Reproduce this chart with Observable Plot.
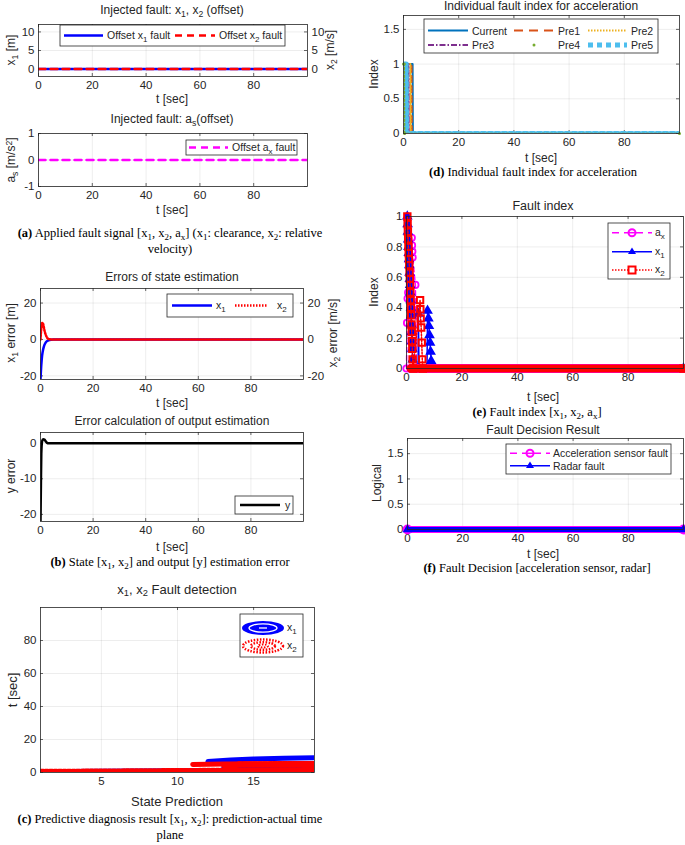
<!DOCTYPE html>
<html><head><meta charset="utf-8">
<script src="https://cdn.jsdelivr.net/npm/d3@7"></script>
<script src="https://cdn.jsdelivr.net/npm/@observablehq/plot@0.6"></script>
<style>
body{margin:0;background:#fff}
#fig{position:relative;width:685px;height:845px;background:#fff;overflow:hidden}
sub{font-size:0.72em;vertical-align:-0.28em;line-height:0}
sup{font-size:0.72em;vertical-align:0.45em;line-height:0}
</style></head>
<body><div id="fig"></div>
<script>
// ---------------- DATA ----------------
// (a) injected faults
const tA = [0, 100];
const offsetX1 = [0, 0];
const offsetX2 = [0, 0];
const offsetAx = [0, 0];
// (b) estimation errors
const tErrX1 = [0, 0.3, 0.6, 1, 1.5, 2, 3, 4, 5, 100];
const errX1 = [-22, -14, -9, -5.5, -3, -1.6, -0.5, -0.1, 0, 0];
const tErrX2 = [0, 0.3, 0.7, 1.0, 1.5, 2, 2.5, 3, 4, 100];
const errX2 = [0, 6, 9.2, 8.5, 5, 2.5, 1, 0.3, 0, 0];
const tErrY = [0, 0.15, 0.3, 0.6, 1, 1.5, 2, 2.5, 3, 100];
const errY = [-22, -12, -3, 0.5, 1.1, 1.0, 0.5, 0.1, 0, 0];
// (c) prediction-actual time plane
const cX1UpperPred = [12, 13.5, 15, 17, 19];
const cX1UpperTime = [6.6, 7.6, 8.2, 8.7, 9.0];
const cX1MidPred = [13, 19];
const cX1MidTime = [2.6, 2.9];
const cX1BasePred = [1, 5, 10, 15, 19];
const cX1BaseTime = [0.5, 0.7, 1.0, 1.3, 1.5];
const cX2UpperPred = [11, 12, 13, 15, 19];
const cX2UpperTime = [4.9, 5.0, 5.1, 5.3, 5.4];
const cX2DotPred = [14, 19];
const cX2DotTime = [5.9, 6.1];
const cX2LowPred = [13, 19];
const cX2LowTime = [4.0, 4.1];
const cX2BasePred = [1, 5, 10, 15, 19];
const cX2BaseTime = [0.7, 0.9, 1.2, 1.5, 1.8];
// (d) individual fault index
const tCurrent = [0, 3.3, 3.4, 100], idxCurrent = [1, 1, 0, 0];
const tPre1 = [0, 2.9, 3.0, 100], idxPre1 = [1, 1, 0, 0];
const tPre2 = [0, 2.5, 2.6, 100], idxPre2 = [1, 1, 0, 0];
const tPre3 = [0, 1.8, 1.9, 100], idxPre3 = [1, 1, 0, 0];
const tPre4 = [0, 0.3, 0.4, 100], idxPre4 = [1, 1, 0, 0];
const tPre5 = [0, 1.0, 1.1, 100], idxPre5 = [1, 1, 0, 0];
// (e) fault index
const tAx = [0, 0.2, 0.4, 0.6, 1.9, 2.0, 2.1, 2.2, 3.2, 3.6, 100];
const idxAx = [0, 0.30, 0.46, 0.5, 0.86, 0.81, 0.77, 0.73, 0.55, 0, 0];
const tX1 = [0.3,0.4,0.5,0.6,0.7,0.8,0.9,1.0,1.1,1.2,1.3,1.4,1.5,1.6,1.7,1.8,1.9,2.0,2.1,2.2,2.4,4.2,4.3,4.5,7.4,7.6,7.9,8.1,8.3,8.5,8.7,8.9,9.2,100];
const idxX1 = [1.0,0.95,0.90,0.85,0.80,0.76,0.72,0.68,0.63,0.59,0.55,0.50,0.45,0.40,0.35,0.29,0.24,0.18,0.13,0.06,0,0,0.36,0,0,0.38,0.33,0.28,0.22,0.17,0.11,0.05,0,0];
const tX2 = [0.3,0.4,0.5,0.6,0.7,0.8,0.9,1.0,1.1,1.2,1.3,1.4,1.5,1.6,1.7,1.8,1.9,2.0,2.1,2.2,2.4,4.9,5.0,5.1,5.3,5.5,5.7,5.9,100];
const idxX2 = [1.0,0.95,0.90,0.85,0.80,0.76,0.72,0.68,0.63,0.59,0.55,0.50,0.45,0.40,0.35,0.29,0.24,0.18,0.13,0.06,0,0.45,0.39,0.33,0.27,0.17,0.06,0,0];
const tZeroRun = [1.5, 100], idxZeroRun = [0, 0];
// (f) fault decision
const tDecision = [0, 100];
const accFault = [0, 0];
const radarFault = [0, 0];
// ticks
const ticksT = [0, 20, 40, 60, 80];
const ticksA1 = [0, 5, 10];
const ticksA2 = [-1, 0, 1];
const ticksB1 = [-20, 0, 20];
const ticksB2 = [-20, -10, 0];
const ticksCx = [5, 10, 15];
const ticksCy = [0, 20, 40, 60, 80];
const ticksD = [0, 0.5, 1, 1.5];
const ticksE = [0, 0.2, 0.4, 0.6, 0.8, 1];

// ---------------- HELPERS ----------------
const sans = "'Liberation Sans', Arial, Helvetica, sans-serif";
const serif = "'Liberation Serif', 'Times New Roman', serif";
const fig = document.getElementById("fig");
const tab = (xs, ys) => xs.map((x, i) => ({x, y: ys[i]}));

function txt(html, x, y, o = {}) {
  const d = document.createElement("div");
  d.innerHTML = html;
  Object.assign(d.style, {
    position: "absolute", left: x + "px", top: y + "px",
    transform: "translate(-50%,-50%)" + (o.rot ? " rotate(-90deg)" : ""),
    whiteSpace: "nowrap", fontFamily: o.family || sans, fontSize: (o.size || 12) + "px",
    lineHeight: "1.1", color: o.color || "#262626"
  });
  fig.append(d);
}
function legend(x, y, w, h, inner) {
  const d = document.createElement("div");
  d.innerHTML = `<svg width="${w + 2}" height="${h + 2}" style="position:absolute;left:${x - 1}px;top:${y - 1}px;overflow:visible" font-family="${sans.replace(/"/g, "")}" font-size="10.5" fill="#262626"><rect x="1" y="1" width="${w}" height="${h}" fill="#fff" stroke="#262626" stroke-width="0.8"/><g transform="translate(1,1)">${inner}</g></svg>`;
  fig.append(d.firstChild);
}
const sub = (base, s, rest) => `${base}<tspan dy="3" font-size="8">${s}</tspan>` + (rest ? `<tspan dy="-3">${rest}</tspan>` : "");

function panel({fx, fy, fw, fh, xDomain, yDomain, xTicks, yTicks, marks, right}) {
  const ml = 36, mr = 36, mt = 8, mb = 24;
  const fmt = d => String(d);
  const tick = {stroke: "#262626", strokeWidth: 0.7};
  const p = Plot.plot({
    width: fw + ml + mr, height: fh + mt + mb,
    marginLeft: ml, marginRight: mr, marginTop: mt, marginBottom: mb,
    x: {domain: xDomain}, y: {domain: yDomain},
    style: {fontFamily: sans, fontSize: "11.5px", color: "#262626", background: "none", overflow: "visible"},
    marks: [
      Plot.gridX(xTicks, {stroke: "#000", strokeOpacity: 0.1, strokeWidth: 0.7}),
      Plot.gridY(yTicks, {stroke: "#000", strokeOpacity: 0.1, strokeWidth: 0.7}),
      Plot.ruleX(xTicks, {...tick, insetTop: fh - 3}),
      Plot.ruleX(xTicks, {...tick, insetBottom: fh - 3}),
      Plot.ruleY(yTicks, {...tick, insetRight: fw - 3}),
      Plot.ruleY(yTicks, {...tick, insetLeft: fw - 3}),
      Plot.axisX(xTicks, {tickSize: 0, tickPadding: 4, label: null, tickFormat: fmt}),
      Plot.axisY(yTicks, {tickSize: 0, tickPadding: 4, label: null, tickFormat: fmt}),
      right ? Plot.axisY(yTicks, {anchor: "right", tickSize: 0, tickPadding: 4, label: null, tickFormat: fmt}) : null,
      ...marks,
      Plot.frame({stroke: "#262626", strokeWidth: 0.8})
    ]
  });
  Object.assign(p.style, {position: "absolute", left: (fx - ml) + "px", top: (fy - mt) + "px"});
  fig.append(p);
}
const line = (xs, ys, o) => Plot.line(tab(xs, ys), {x: "x", y: "y", clip: true, ...o});
const dots = (xs, ys, o) => Plot.dot(tab(xs, ys), {x: "x", y: "y", ...o});

// ---------------- PANEL (a) ----------------
panel({fx: 38, fy: 24, fw: 269, fh: 52, xDomain: [0, 100], yDomain: [-2, 12], xTicks: ticksT, yTicks: ticksA1, right: true,
  marks: [
    line(tA, offsetX1, {stroke: "#0000ff", strokeWidth: 2.5}),
    line(tA, offsetX2, {stroke: "#ff0000", strokeWidth: 2.5, strokeDasharray: "7,5"})
  ]});
txt("Injected fault: x<sub>1</sub>, x<sub>2</sub> (offset)", 172, 11);
txt("x<sub>1</sub> [m]", 12, 50, {rot: true});
txt("x<sub>2</sub> [m/s]", 331, 50, {rot: true});
txt("t [sec]", 172, 100);
legend(60, 25, 225, 21,
  `<line x1="4" x2="43" y1="10.5" y2="10.5" stroke="#0000ff" stroke-width="2.5"/><text x="47" y="14">${sub("Offset x", "1", " fault")}</text>
   <line x1="115" x2="155" y1="10.5" y2="10.5" stroke="#ff0000" stroke-width="2.5" stroke-dasharray="7,5"/><text x="159" y="14">${sub("Offset x", "2", " fault")}</text>`);

panel({fx: 38, fy: 133, fw: 269, fh: 53, xDomain: [0, 100], yDomain: [-1, 1], xTicks: ticksT, yTicks: ticksA2,
  marks: [line(tA, offsetAx, {stroke: "#ff00ff", strokeWidth: 2.5, strokeDasharray: "7,5"})]});
txt("Injected fault: a<sub>s</sub>(offset)", 172, 120);
txt("a<sub>s</sub> [m/s<sup>2</sup>]", 12, 160, {rot: true});
txt("t [sec]", 172, 211);
legend(186, 140, 111, 15,
  `<line x1="3" x2="42" y1="7.5" y2="7.5" stroke="#ff00ff" stroke-width="2.5" stroke-dasharray="7,5"/><text x="46" y="11">${sub("Offset a", "x", " fault")}</text>`);
txt("<b>(a)</b> Applied fault signal [x<sub>1</sub>, x<sub>2</sub>, a<sub>x</sub>] (x<sub>1</sub>: clearance, x<sub>2</sub>: relative", 170, 234, {family: serif, size: 12.5, color: "#000"});
txt("velocity)", 170, 250, {family: serif, size: 12.5, color: "#000"});

// ---------------- PANEL (b) ----------------
panel({fx: 40, fy: 288, fw: 263, fh: 91, xDomain: [0, 100], yDomain: [-22, 28], xTicks: ticksT, yTicks: ticksB1, right: true,
  marks: [
    line(tErrX1, errX1, {stroke: "#0000ff", strokeWidth: 2.5, curve: "monotone-x"}),
    line(tErrX2, errX2, {stroke: "#ff0000", strokeWidth: 2.5, strokeDasharray: "1.5,1.5", curve: "monotone-x"})
  ]});
txt("Errors of state estimation", 172, 278);
txt("x<sub>1</sub> error [m]", 12, 333, {rot: true});
txt("x<sub>2</sub> error [m/s]", 334, 333, {rot: true});
txt("t [sec]", 172, 404);
legend(167, 294, 126, 23,
  `<line x1="5" x2="45" y1="11.5" y2="11.5" stroke="#0000ff" stroke-width="2.5"/><text x="49" y="15">${sub("x", "1")}</text>
   <line x1="68" x2="101" y1="11.5" y2="11.5" stroke="#ff0000" stroke-width="2.5" stroke-dasharray="1.5,1.5"/><text x="110" y="15">${sub("x", "2")}</text>`);

panel({fx: 40, fy: 432, fw: 263, fh: 89, xDomain: [0, 100], yDomain: [-22, 3], xTicks: ticksT, yTicks: ticksB2,
  marks: [line(tErrY, errY, {stroke: "#000", strokeWidth: 2.5, curve: "monotone-x"})]});
txt("Error calculation of output estimation", 172, 422);
txt("y error", 12, 476, {rot: true});
txt("t [sec]", 172, 548);
legend(235, 496, 58, 18,
  `<line x1="5" x2="45" y1="9" y2="9" stroke="#000" stroke-width="2.5"/><text x="50" y="13">y</text>`);
txt("<b>(b)</b> State [x<sub>1</sub>, x<sub>2</sub>] and output [y] estimation error", 170, 563, {family: serif, size: 12.5, color: "#000"});

// ---------------- PANEL (c) ----------------
panel({fx: 40, fy: 607, fw: 274, fh: 165, xDomain: [1, 19], yDomain: [0, 100], xTicks: ticksCx, yTicks: ticksCy,
  marks: [
    line(cX1BasePred, cX1BaseTime, {stroke: "#0000ff", strokeWidth: 5}),
    line(cX1MidPred, cX1MidTime, {stroke: "#0000ff", strokeWidth: 4}),
    line(cX1UpperPred, cX1UpperTime, {stroke: "#0000ff", strokeWidth: 5}),
    line(cX2BasePred, cX2BaseTime, {stroke: "#ff0000", strokeWidth: 5, strokeDasharray: "3,1.5"}),
    line(cX2LowPred, cX2LowTime, {stroke: "#ff0000", strokeWidth: 4, strokeDasharray: "3,1.5"}),
    line(cX2DotPred, cX2DotTime, {stroke: "#ff0000", strokeWidth: 3, strokeDasharray: "3,2"}),
    line(cX2UpperPred, cX2UpperTime, {stroke: "#ff0000", strokeWidth: 5})
  ]});
txt("x<sub>1</sub>, x<sub>2</sub> Fault detection", 177, 590, {size: 13});
txt("t [sec]", 13, 690, {rot: true, size: 13});
txt("State Prediction", 177, 802, {size: 13});
legend(240, 614, 63, 43,
  `<ellipse cx="23" cy="14" rx="21" ry="7" fill="#0000ff"/><ellipse cx="23" cy="14" rx="14" ry="4.2" fill="none" stroke="#fff" stroke-width="1.3"/><line x1="19" x2="27" y1="14" y2="14" stroke="#fff" stroke-width="1.3"/>
   <text x="47" y="17">${sub("x", "1")}</text>
   <ellipse cx="23" cy="32" rx="20" ry="6.5" fill="none" stroke="#ff0000" stroke-width="2.5" stroke-dasharray="1.5,1.5"/><ellipse cx="23" cy="32" rx="12" ry="3.8" fill="none" stroke="#ff0000" stroke-width="2.5" stroke-dasharray="1.5,1.5"/><ellipse cx="23" cy="32" rx="5" ry="1.5" fill="none" stroke="#ff0000" stroke-width="2" stroke-dasharray="1.5,1.5"/>
   <text x="47" y="35">${sub("x", "2")}</text>`);
txt("<b>(c)</b> Predictive diagnosis result [x<sub>1</sub>, x<sub>2</sub>]: prediction-actual time", 170, 820, {family: serif, size: 12.5, color: "#000"});
txt("plane", 170, 836, {family: serif, size: 12.5, color: "#000"});

// ---------------- PANEL (d) ----------------
const cBlue = "#0072BD", cOrange = "#D95319", cYellow = "#EDB120", cPurple = "#7E2F8E", cGreen = "#77AC30", cCyan = "#4DBEEE";
panel({fx: 403, fy: 15, fw: 276, fh: 118, xDomain: [0, 100], yDomain: [0, 1.7], xTicks: ticksT, yTicks: ticksD,
  marks: [
    line(tCurrent, idxCurrent, {stroke: cBlue, strokeWidth: 2}),
    line(tPre1, idxPre1, {stroke: cOrange, strokeWidth: 2, strokeDasharray: "6,4"}),
    line(tPre2, idxPre2, {stroke: cYellow, strokeWidth: 2, strokeDasharray: "1.5,1.5"}),
    line(tPre3, idxPre3, {stroke: cPurple, strokeWidth: 2, strokeDasharray: "6,2,1.5,2"}),
    line(tPre5, idxPre5, {stroke: cCyan, strokeWidth: 5, strokeDasharray: "4,3"}),
    line(tPre4, idxPre4, {stroke: cGreen, strokeWidth: 1.5, strokeDasharray: "2,2"}),
    dots(tPre4, idxPre4, {fill: cGreen, r: 1.5})
  ]});
txt("Individual fault index for acceleration", 541, 7);
txt("Index", 375, 74, {rot: true});
txt("t [sec]", 541, 159);
legend(424, 19, 234, 34,
  `<line x1="4" x2="44" y1="11.5" y2="11.5" stroke="${cBlue}" stroke-width="2"/><text x="48" y="15.5">Current</text>
   <line x1="90" x2="129" y1="11.5" y2="11.5" stroke="${cOrange}" stroke-width="2" stroke-dasharray="9,6"/><text x="134" y="15.5">Pre1</text>
   <line x1="164" x2="203" y1="11.5" y2="11.5" stroke="${cYellow}" stroke-width="2" stroke-dasharray="1.5,1.5"/><text x="207" y="15.5">Pre2</text>
   <line x1="4" x2="44" y1="26" y2="26" stroke="${cPurple}" stroke-width="2" stroke-dasharray="6,2,1.5,2"/><text x="48" y="30">Pre3</text>
   <circle cx="110" cy="26" r="1.5" fill="${cGreen}"/><text x="134" y="30">Pre4</text>
   <line x1="164" x2="203" y1="26" y2="26" stroke="${cCyan}" stroke-width="5" stroke-dasharray="5,4"/><text x="207" y="30">Pre5</text>`);
txt("<b>(d)</b> Individual fault index for acceleration", 533, 173, {family: serif, size: 12.5, color: "#000"});

// ---------------- PANEL (e) ----------------
panel({fx: 406, fy: 216, fw: 277, fh: 152, xDomain: [0, 100], yDomain: [0, 1], xTicks: ticksT, yTicks: ticksE,
  marks: [
    Plot.line(tab(tAx, idxAx), {x: "x", y: "y", stroke: "#ff00ff", strokeWidth: 1.5, strokeDasharray: "5,3"}),
    dots(tAx, idxAx, {symbol: "circle", r: 3.2, stroke: "#ff00ff", strokeWidth: 1.8, fill: "none"}),
    Plot.line(tab(tX1, idxX1), {x: "x", y: "y", stroke: "#0000ff", strokeWidth: 1.5}),
    dots(tX1, idxX1, {symbol: "triangle", r: 3, fill: "#0000ff", stroke: "#0000ff"}),
    Plot.line(tab(tZeroRun, idxZeroRun), {x: "x", y: "y", stroke: "#ff00ff", strokeWidth: 9}),
    Plot.line(tab(tZeroRun, idxZeroRun), {x: "x", y: "y", stroke: "#ff0000", strokeWidth: 8}),
    Plot.line(tab(tX2, idxX2), {x: "x", y: "y", stroke: "#ff0000", strokeWidth: 1.5, strokeDasharray: "1.5,1.5"}),
    dots(tX2, idxX2, {symbol: "square", r: 3.6, stroke: "#ff0000", strokeWidth: 2, fill: "none"})
  ]});
txt("Fault index", 543, 207, {size: 12.5});
txt("Index", 375, 292, {rot: true});
txt("t [sec]", 543, 398);
legend(608, 223, 62, 56,
  `<line x1="4" x2="44" y1="9.7" y2="9.7" stroke="#ff00ff" stroke-width="1.5" stroke-dasharray="7,5"/><circle cx="24" cy="9.7" r="3.5" fill="#fff" stroke="#ff00ff" stroke-width="2"/><line x1="20.5" x2="27.5" y1="9.7" y2="9.7" stroke="#ff00ff" stroke-width="1.5"/><text x="47" y="13">${sub("a", "x")}</text>
   <line x1="4" x2="44" y1="28.7" y2="28.7" stroke="#0000ff" stroke-width="1.5"/><path d="M24,24.5L28,31L20,31Z" fill="#0000ff"/><text x="47" y="32">${sub("x", "1")}</text>
   <line x1="4" x2="44" y1="47" y2="47" stroke="#ff0000" stroke-width="1.5" stroke-dasharray="1.5,1.5"/><rect x="20.5" y="43.5" width="7" height="7" fill="#fff" stroke="#ff0000" stroke-width="2"/><text x="47" y="50">${sub("x", "2")}</text>`);
txt("<b>(e)</b> Fault index [x<sub>1</sub>, x<sub>2</sub>, a<sub>x</sub>]", 537, 413, {family: serif, size: 12.5, color: "#000"});

// ---------------- PANEL (f) ----------------
panel({fx: 407, fy: 438, fw: 276, fh: 91, xDomain: [0, 100], yDomain: [0, 1.8], xTicks: ticksT, yTicks: ticksD,
  marks: [
    Plot.line(tab(tDecision, accFault), {x: "x", y: "y", stroke: "#ff00ff", strokeWidth: 7}),
    dots(tDecision, accFault, {symbol: "circle", r: 4, stroke: "#ff00ff", strokeWidth: 2, fill: "none"}),
    Plot.line(tab(tDecision, radarFault), {x: "x", y: "y", stroke: "#0000ff", strokeWidth: 5}),
    dots(tDecision, radarFault, {symbol: "triangle", r: 3.5, fill: "#0000ff"})
  ]});
txt("Fault Decision Result", 543, 431);
txt("Logical", 378, 483, {rot: true});
txt("t [sec]", 543, 555);
legend(506, 444, 165, 30,
  `<line x1="4" x2="44" y1="9.3" y2="9.3" stroke="#ff00ff" stroke-width="1.5" stroke-dasharray="7,5"/><circle cx="24" cy="9.3" r="3.5" fill="#fff" stroke="#ff00ff" stroke-width="2"/><line x1="20.5" x2="27.5" y1="9.3" y2="9.3" stroke="#ff00ff" stroke-width="1.5"/><text x="47" y="13">Acceleration sensor fault</text>
   <line x1="4" x2="44" y1="21.7" y2="21.7" stroke="#0000ff" stroke-width="1.5"/><path d="M24,17.5L28,24L20,24Z" fill="#0000ff"/><text x="47" y="25.5">Radar fault</text>`);
txt("<b>(f)</b> Fault Decision [acceleration sensor, radar]", 537, 569, {family: serif, size: 12.5, color: "#000"});
</script>
</body></html>
